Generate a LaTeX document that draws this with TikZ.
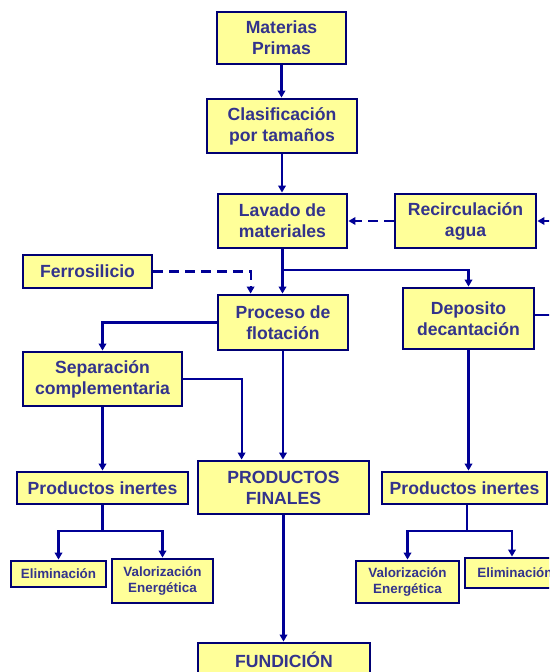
\documentclass[tikz,border=0pt]{standalone}
\usepackage{fontspec}
\setmainfont{Liberation Sans}
\usetikzlibrary{arrows.meta}
\definecolor{boxfill}{RGB}{255,255,153}
\definecolor{boxline}{RGB}{0,0,115}
\definecolor{boxtext}{RGB}{51,51,140}
\definecolor{wire}{RGB}{0,0,150}
\tikzset{
  box/.style={draw=boxline, line width=2.8pt, fill=boxfill, text=boxtext,
    inner sep=0pt, align=center, font=\fontsize{17.6}{21}\selectfont\bfseries},
  smallbox/.style={box, font=\fontsize{13.4}{16.5}\selectfont\bfseries},
  wire/.style={draw=wire, line width=2.2pt},
  arr/.style={wire, -{Triangle[length=7pt,width=7.5pt]}},
  dasharr/.style={arr, dash pattern=on 10pt off 6pt},
}
\begin{document}
\begin{tikzpicture}[x=1pt,y=-1pt]
\useasboundingbox (0,0) rectangle (549,672);
\clip (0,0) rectangle (549,672);
\fill[white] (0,0) rectangle (549,672);

% boxes
\node[box, minimum width=129pt, minimum height=52pt] (materias) at (281.5,38) {Materias\\Primas};
\node[box, minimum width=150pt, minimum height=54pt] (clasif) at (282,126) {Clasificación\\por tamaños};
\node[box, minimum width=129pt, minimum height=54pt] (lavado) at (282.5,221) {Lavado de\\materiales};
\node[box, minimum width=141pt, minimum height=54pt] (recirc) at (465.5,221) {Recirculación\\agua};
\node[box, minimum width=129pt, minimum height=33pt] (ferro) at (87.5,271.5) {Ferrosilicio};
\node[box, minimum width=130pt, minimum height=55pt] (proceso) at (283,322.5) {Proceso de\\flotación};
\node[box, minimum width=131pt, minimum height=61pt] (deposito) at (468.5,318.5) {Deposito\\decantación};
\node[box, minimum width=159pt, minimum height=54pt] (separ) at (102.5,379) {Separación\\complementaria};
\node[box, minimum width=171pt, minimum height=32pt] (inertesL) at (102.5,488) {Productos inertes};
\node[box, minimum width=171pt, minimum height=53pt] (finales) at (283.5,487.5) {PRODUCTOS\\FINALES};
\node[box, minimum width=165pt, minimum height=32pt] (inertesR) at (464.5,488) {Productos inertes};
\node[smallbox, minimum width=95pt, minimum height=26pt] (elimL) at (58.5,574) {Eliminación};
\node[smallbox, minimum width=101pt, minimum height=44pt] (valorL) at (162.5,581) {Valorización\\Energética};
\node[smallbox, minimum width=103pt, minimum height=42pt] (valorR) at (407.5,582) {Valorización\\Energética};
\node[smallbox, minimum width=100pt, minimum height=30pt] (elimR) at (515,573) {Eliminación};
\node[box, minimum width=172pt, minimum height=34pt] (fundicion) at (284,660) {FUNDICIÓN};

% free ends and junctions
\coordinate (fromright) at (556,221);
\coordinate (toright) at (556,315);
\coordinate (split) at (283,270);
\coordinate (jl) at (102.5,531);
\coordinate (jr) at (467,531);

% main flow
\draw[arr] (materias.south) -- (materias.south |- clasif.north);
\draw[arr] (clasif.south) -- (clasif.south |- lavado.north);
\draw[arr] (lavado.south) -- (lavado.south |- proceso.north);
\draw[arr] (split) -| (deposito.north);
\draw[dasharr] (recirc.west) -- (lavado.east);
\draw[arr] (fromright) -- (recirc.east);
\draw[wire] (deposito.east |- toright) -- (toright);
\draw[dasharr] (ferro.east) -| ([xshift=34pt]proceso.north west);
\draw[arr] (proceso.west) -| (separ.north);
\draw[arr] (separ.east) -| ([xshift=45pt]finales.north west);
\draw[arr] (proceso.south) -- (proceso.south |- finales.north);
\draw[arr] (separ.south) -- (inertesL.north);
\draw[arr] (deposito.south) -- (deposito.south |- inertesR.north);
\draw[arr] (finales.south) -- (finales.south |- fundicion.north);

% residues
\draw[wire] (inertesL.south) -- (jl);
\draw[arr] (jl) -| (elimL.north);
\draw[arr] (jl) -| (valorL.north);
\draw[wire] (inertesR.south -| jr) -- (jr);
\draw[arr] (jr) -| (valorR.north);
\draw[arr] (jr) -| ([xshift=-3pt]elimR.north);
\end{tikzpicture}
\end{document}
